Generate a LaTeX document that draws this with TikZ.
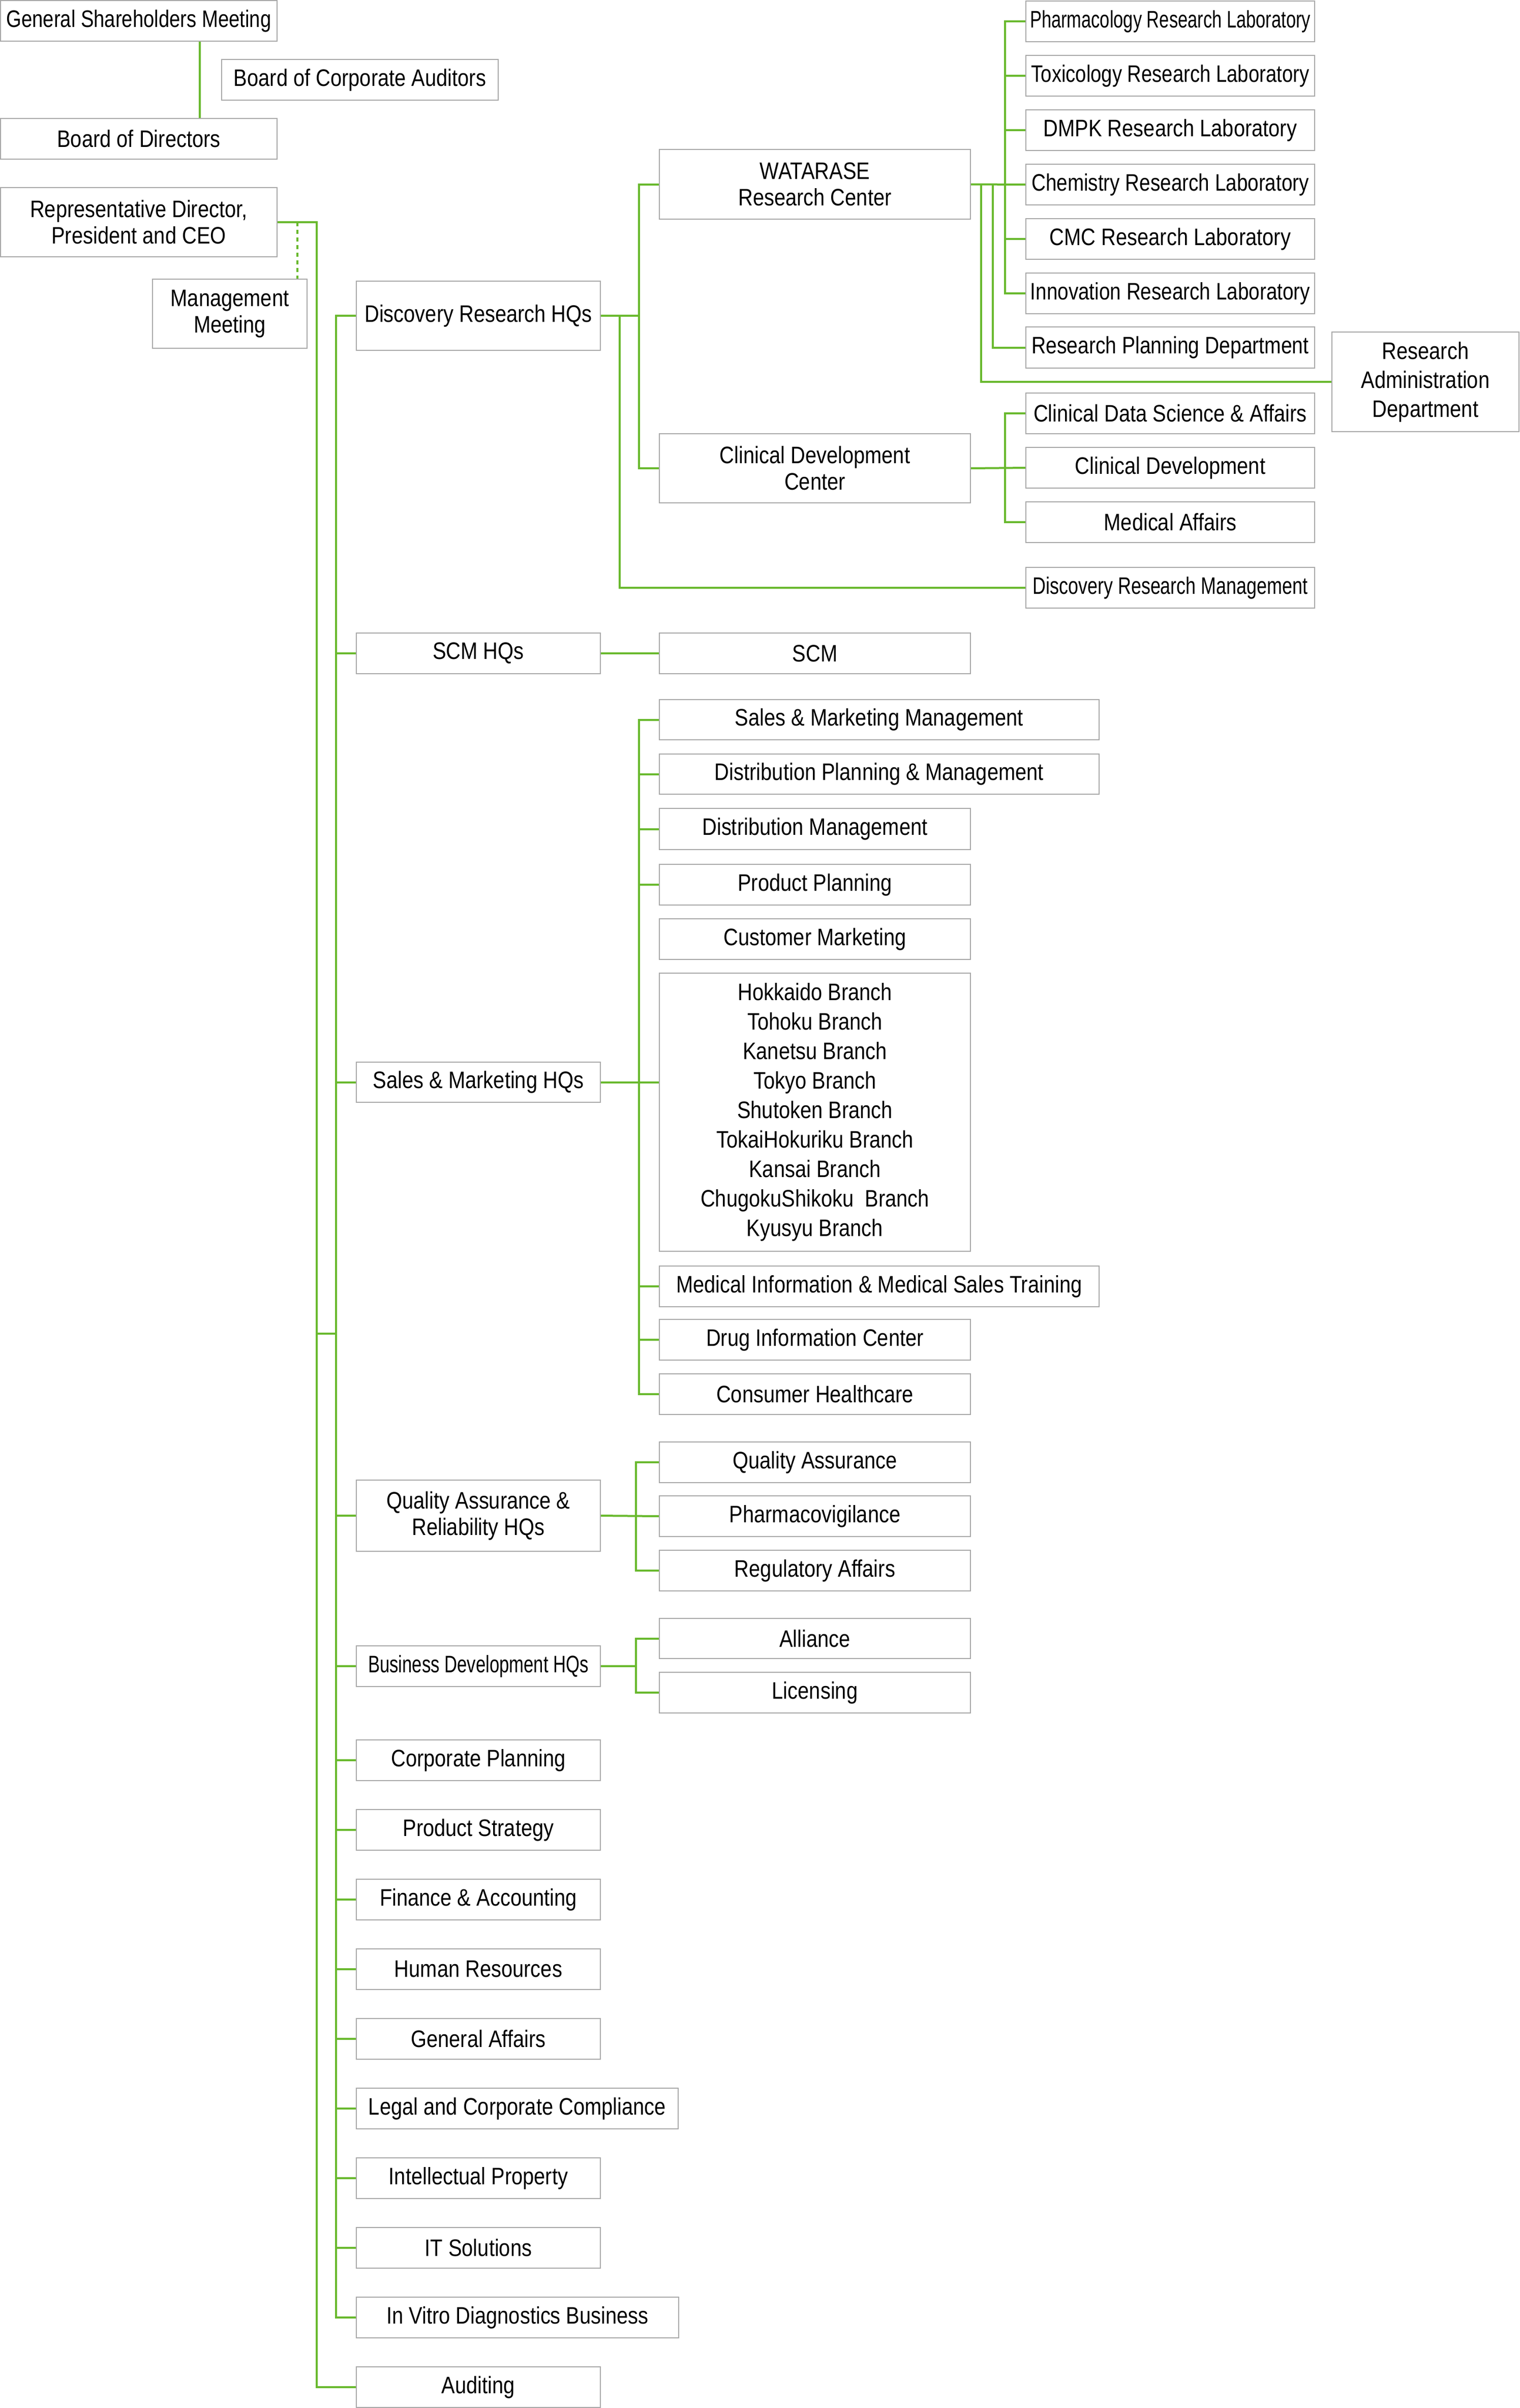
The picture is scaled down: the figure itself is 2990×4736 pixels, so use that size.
\documentclass[tikz,border=0pt]{standalone}
\usepackage{fontspec}
\setmainfont[FakeStretch=0.85]{Liberation Sans}
\usepackage{graphicx}
\definecolor{lg}{HTML}{69B92E}
\definecolor{bgray}{HTML}{A8A8A8}
\pgfdeclarelayer{bg}
\pgfsetlayers{bg,main}
\tikzset{
 box/.style={draw=bgray,fill=white,line width=2.5pt,inner sep=0pt,outer sep=0pt,align=center,font={\fontsize{46.9}{52}\selectfont},text=black},
 gl/.style={draw=lg,line width=4pt},
 gdash/.style={draw=lg,line width=4pt,dash pattern=on 8pt off 7pt}
}
\newcommand\bx[7][]{\node[box,minimum width={(#5-#3)*1pt},minimum height={(#6-#4)*1pt},#1] (#2) at ({(#3+#5)/2},{(#4+#6)/2}) {#7};}
\newcommand\sq[2]{\scalebox{#1}[1]{#2}}
\begin{document}
\begin{tikzpicture}[x=1pt,y=-1pt]
\useasboundingbox (0,0) rectangle (2990,4736);
% column 1
\bx{gsm}{1}{1}{545}{81}{\sq{0.96}{General Shareholders Meeting}}
\bx{boca}{436}{117}{980}{197}{Board of Corporate Auditors}
\bx{bod}{1}{233}{545}{313}{Board of Directors}
\bx{ceo}{1}{369}{545}{505}{Representative Director,\\President and CEO}
\bx{mm}{300}{549}{604}{685}{Management\\Meeting}
% column 2
\bx{drhq}{701}{553}{1181}{689}{Discovery Research HQs}
\bx{scmhq}{701}{1245}{1181}{1325}{SCM HQs}
\bx{smhq}{701}{2089}{1181}{2168}{Sales \& Marketing HQs}
\bx{qahq}{701}{2911}{1181}{3051}{Quality Assurance \&\\Reliability HQs}
\bx{bdhq}{701}{3237}{1181}{3317}{\sq{0.87}{Business Development HQs}}
\bx{cp}{701}{3422}{1181}{3502}{Corporate Planning}
\bx{ps}{701}{3559}{1181}{3639}{Product Strategy}
\bx{fa}{701}{3696}{1181}{3776}{Finance \& Accounting}
\bx{hr}{701}{3833}{1181}{3913}{Human Resources}
\bx{ga}{701}{3970}{1181}{4050}{General Affairs}
\bx{legal}{701}{4107}{1334}{4187}{Legal and Corporate Compliance}
\bx{ip}{701}{4244}{1181}{4324}{Intellectual Property}
\bx{it}{701}{4381}{1181}{4461}{IT Solutions}
\bx{ivd}{701}{4518}{1335}{4598}{In Vitro Diagnostics Business}
\bx{aud}{701}{4655}{1181}{4735}{Auditing}
% column 3
\bx{wat}{1297}{294}{1909}{431}{WATARASE\\Research Center}
\bx{cdc}{1297}{853}{1909}{989}{Clinical Development\\Center}
\bx{scm}{1297}{1245}{1909}{1325}{SCM}
\bx{smm}{1297}{1376}{2162}{1455}{Sales \& Marketing Management}
\bx{dpm}{1297}{1483}{2162}{1562}{Distribution Planning \& Management}
\bx{dm}{1297}{1590}{1909}{1671}{Distribution Management}
\bx{pp}{1297}{1700}{1909}{1780}{Product Planning}
\bx{cm}{1297}{1807}{1909}{1887}{Customer Marketing}
\bx[font={\fontsize{46.9}{58}\selectfont}]{br}{1297}{1914}{1909}{2461}{Hokkaido Branch\\Tohoku Branch\\Kanetsu Branch\\Tokyo Branch\\Shutoken Branch\\TokaiHokuriku Branch\\Kansai Branch\\ChugokuShikoku\ \ Branch\\Kyusyu Branch}
\bx{mi}{1297}{2490}{2162}{2570}{Medical Information \& Medical Sales Training}
\bx{di}{1297}{2595}{1909}{2675}{Drug Information Center}
\bx{ch}{1297}{2702}{1909}{2782}{Consumer Healthcare}
\bx{qa}{1297}{2836}{1909}{2916}{Quality Assurance}
\bx{pv}{1297}{2942}{1909}{3022}{Pharmacovigilance}
\bx{ra}{1297}{3049}{1909}{3129}{Regulatory Affairs}
\bx{al}{1297}{3183}{1909}{3262}{Alliance}
\bx{lic}{1297}{3289}{1909}{3369}{Licensing}
% column 4
\bx{pharm}{2018}{2}{2586}{82}{\sq{0.865}{Pharmacology Research Laboratory}}
\bx{tox}{2018}{109}{2586}{189}{\sq{0.96}{Toxicology Research Laboratory}}
\bx{dmpk}{2018}{216}{2586}{296}{DMPK Research Laboratory}
\bx{chem}{2018}{323}{2586}{403}{\sq{0.97}{Chemistry Research Laboratory}}
\bx{cmc}{2018}{430}{2586}{510}{CMC Research Laboratory}
\bx{inno}{2018}{537}{2586}{617}{\sq{0.97}{Innovation Research Laboratory}}
\bx{rpd}{2018}{643}{2586}{724}{\sq{0.98}{Research Planning Department}}
\bx[font={\fontsize{46.9}{57}\selectfont}]{rad}{2620}{653}{2988}{849}{Research\\Administration\\Department}
\bx{cdsa}{2018}{773}{2586}{853}{Clinical Data Science \& Affairs}
\bx{cd}{2018}{880}{2586}{960}{Clinical Development}
\bx{ma}{2018}{987}{2586}{1067}{Medical Affairs}
\bx{drm}{2018}{1116}{2586}{1196}{\sq{0.9}{Discovery Research Management}}
% helper coordinates
\coordinate (k1) at (393,0);
\coordinate (cx) at (623,0);
\coordinate (mx) at (585,0);
\coordinate (sx) at (661,0);
\coordinate (cb) at (0,2623);
\coordinate (d1) at (1257,0);
\coordinate (d2) at (1219,0);
\coordinate (lx) at (1977,0);
\coordinate (rx) at (1953,0);
\coordinate (ax) at (1930,0);
\coordinate (smx) at (1257,0);
\coordinate (qx) at (1251,0);
\begin{pgfonlayer}{bg}
\draw[gl] (gsm.south -| k1) -- (bod.north -| k1);
\draw[gl] (ceo.east) -- (ceo.east -| cx) -- (aud.west -| cx) -- (aud.west);
\draw[gdash] (ceo.east -| mx) -- (mm.north -| mx);
\draw[gl] (drhq.west) -- (drhq.west -| sx) -- (ivd.west -| sx) -- (ivd.west);
\foreach \n in {scmhq,smhq,qahq,bdhq,cp,ps,fa,hr,ga,legal,ip,it} \draw[gl] (\n.west) -- (\n.west -| sx);
\draw[gl] (cb -| cx) -- (cb -| sx);
\draw[gl] (drhq.east) -- (drhq.east -| d1);
\draw[gl] (wat.west) -- (wat.west -| d1) -- (cdc.west -| d1) -- (cdc.west);
\draw[gl] (drhq.east -| d2) -- (drm.west -| d2) -- (drm.west);
\draw[gl] (wat.east) -- (chem.west);
\draw[gl] (pharm.west) -- (pharm.west -| lx) -- (inno.west -| lx) -- (inno.west);
\foreach \n in {tox,dmpk,cmc} \draw[gl] (\n.west) -- (\n.west -| lx);
\draw[gl] (wat.east -| rx) -- (rpd.west -| rx) -- (rpd.west);
\draw[gl] (wat.east -| ax) -- (rad.west -| ax) -- (rad.west);
\draw[gl] (cdc.east) -- (cd.west);
\draw[gl] (cdsa.west) -- (cdsa.west -| lx) -- (ma.west -| lx) -- (ma.west);
\draw[gl] (scmhq.east) -- (scm.west);
\draw[gl] (smm.west) -- (smm.west -| smx) -- (ch.west -| smx) -- (ch.west);
\foreach \n in {dpm,dm,pp,mi,di} \draw[gl] (\n.west) -- (\n.west -| smx);
\draw[gl] (smhq.east) -- (smhq.east -| br.west);
\draw[gl] (qa.west) -- (qa.west -| qx) -- (ra.west -| qx) -- (ra.west);
\draw[gl] (qahq.east) -- (pv.west);
\draw[gl] (al.west) -- (al.west -| qx) -- (lic.west -| qx) -- (lic.west);
\draw[gl] (bdhq.east) -- (bdhq.east -| qx);
\end{pgfonlayer}
\end{tikzpicture}
\end{document}
